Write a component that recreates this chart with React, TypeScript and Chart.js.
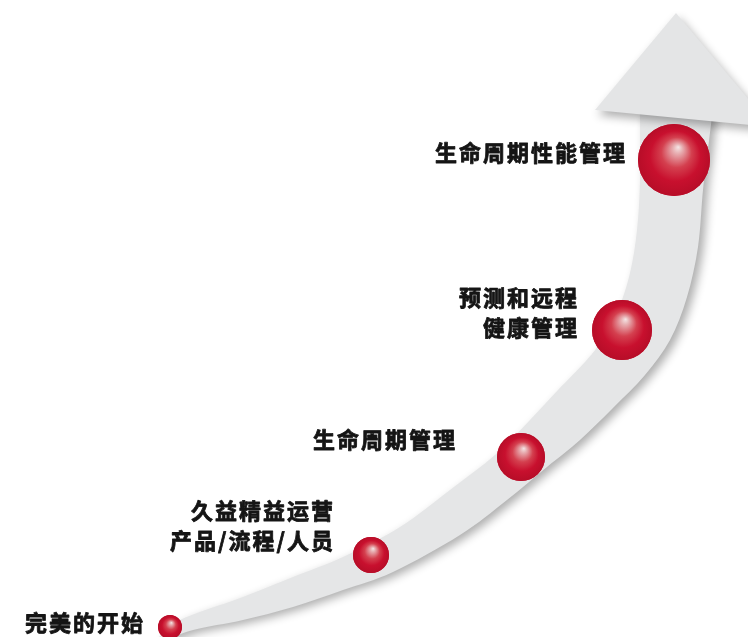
import { useEffect, useRef } from 'react';
import { Chart, registerables } from 'chart.js';

Chart.register(...registerables);

// Stage names (multi-line labels)
const stageLabels: string[][] = [
  ['完美的开始'],
  ['久益精益运营', '产品/流程/人员'],
  ['生命周期管理'],
  ['预测和远程', '健康管理'],
  ['生命周期性能管理'],
];
// Sphere centres and sizes (pixel-like units)
const stageX = [170, 371, 521, 622, 674];
const stageY = [627, 555, 457, 330, 160];
const stageSize = [12, 18, 24, 30, 36];
// Label anchors (right edge / vertical middle)
const labelRightX = [143, 333, 455, 577, 625];
const labelMidY = [623, 526, 440, 313, 153];

// Curved arrow band edges (bottom-left to top)
const bandInnerX = [158, 180, 243, 293, 343, 400, 450, 495, 530, 558, 585, 600, 617, 630, 637, 640, 640];
const bandInnerY = [638, 620, 597, 577, 557, 527, 490, 455, 420, 390, 362, 343, 313, 273, 230, 180, 108];
const bandOuterX = [162, 193, 243, 293, 343, 393, 460, 507, 547, 580, 613, 645, 670, 687, 698, 703, 708, 713];
const bandOuterY = [642, 630, 620, 607, 590, 572, 535, 500, 467, 440, 408, 375, 340, 297, 247, 190, 150, 108];
// Arrow head corners
const headX = [595, 676, 772];
const headY = [110, 13, 127];

type Pt = [number, number];

function smoothTo(ctx: CanvasRenderingContext2D, pts: Pt[]) {
  for (let i = 0; i < pts.length - 1; i++) {
    const p0 = pts[i - 1] || pts[i];
    const p1 = pts[i];
    const p2 = pts[i + 1];
    const p3 = pts[i + 2] || p2;
    const c1x = p1[0] + (p2[0] - p0[0]) / 6;
    const c1y = p1[1] + (p2[1] - p0[1]) / 6;
    const c2x = p2[0] - (p3[0] - p1[0]) / 6;
    const c2y = p2[1] - (p3[1] - p1[1]) / 6;
    ctx.bezierCurveTo(c1x, c1y, c2x, c2y, p2[0], p2[1]);
  }
}

const arrowPlugin = {
  id: 'arrowPlugin',
  beforeDatasetsDraw(chart: any) {
    const { ctx } = chart;
    const sx = chart.scales.x;
    const sy = chart.scales.y;
    const inner: Pt[] = bandInnerX.map((v, i) => [sx.getPixelForValue(v), sy.getPixelForValue(bandInnerY[i])]);
    const outer: Pt[] = bandOuterX
      .map((v, i) => [sx.getPixelForValue(v), sy.getPixelForValue(bandOuterY[i])] as Pt)
      .reverse();
    ctx.save();
    ctx.shadowColor = 'rgba(0,0,0,0.32)';
    ctx.shadowBlur = 10;
    ctx.shadowOffsetX = 5;
    ctx.shadowOffsetY = 3;
    ctx.fillStyle = '#e5e6e7';
    ctx.beginPath();
    ctx.moveTo(inner[0][0], inner[0][1]);
    smoothTo(ctx, inner);
    ctx.lineTo(outer[0][0], outer[0][1]);
    smoothTo(ctx, outer);
    ctx.closePath();
    ctx.fill();

    ctx.shadowOffsetX = 3;
    ctx.shadowOffsetY = 5;
    ctx.fillStyle = '#e4e5e6';
    ctx.beginPath();
    headX.forEach((v, i) => {
      const px = sx.getPixelForValue(v);
      const py = sy.getPixelForValue(headY[i]);
      if (i === 0) ctx.moveTo(px, py);
      else ctx.lineTo(px, py);
    });
    ctx.closePath();
    ctx.fill();
    ctx.restore();
  },
  afterDatasetsDraw(chart: any) {
    const { ctx } = chart;
    const sx = chart.scales.x;
    const sy = chart.scales.y;
    ctx.save();
    // glossy shading on top of each sphere point
    const meta = chart.getDatasetMeta(0);
    meta.data.forEach((el: any) => {
      const px = el.x;
      const py = el.y;
      const r = el.options.radius;
      if (!isFinite(px) || !isFinite(py) || !isFinite(r)) return;
      const g = ctx.createRadialGradient(px + 0.12 * r, py - 0.36 * r, 0, px, py, r);
      g.addColorStop(0, '#f5e6e6');
      g.addColorStop(0.13, '#e8b0b3');
      g.addColorStop(0.42, '#d4404f');
      g.addColorStop(0.7, '#c8102e');
      g.addColorStop(1, '#b70d28');
      ctx.fillStyle = g;
      ctx.beginPath();
      ctx.arc(px, py, r, 0, Math.PI * 2);
      ctx.fill();
    });

    ctx.font = 'bold 22px "Noto Sans CJK SC", "Noto Sans", sans-serif';
    (ctx as any).letterSpacing = '2px';
    ctx.fillStyle = '#151515';
    ctx.strokeStyle = '#151515';
    ctx.lineWidth = 0.8;
    ctx.lineJoin = 'round';
    ctx.textAlign = 'right';
    ctx.textBaseline = 'middle';
    const lineH = 30;
    stageLabels.forEach((lines, i) => {
      const px = sx.getPixelForValue(labelRightX[i]) + 2;
      const py = sy.getPixelForValue(labelMidY[i]);
      const top = py - ((lines.length - 1) * lineH) / 2;
      lines.forEach((t, j) => {
        ctx.fillText(t, px, top + j * lineH);
        ctx.strokeText(t, px, top + j * lineH);
      });
    });
    ctx.restore();
  },
};

export default function App() {
  const ref = useRef<HTMLCanvasElement | null>(null);
  useEffect(() => {
    document.body.style.margin = '0';
    if (!ref.current) return;
    const data = stageX.map((v, i) => ({ x: v, y: stageY[i] }));
    const chart = new Chart(ref.current, {
      type: 'scatter',
      data: {
        datasets: [
          {
            data,
            pointRadius: stageSize,
            pointBorderWidth: 0,
            borderWidth: 0,
            pointBackgroundColor: '#c8102e',
            clip: false,
          } as any,
        ],
      },
      options: {
        animation: false,
        responsive: false,
        events: [],
        layout: { padding: 0, autoPadding: false },
        plugins: { legend: { display: false }, tooltip: { enabled: false } },
        scales: {
          x: { type: 'linear', min: 0, max: 748, display: false },
          y: { type: 'linear', min: 0, max: 637, reverse: true, display: false },
        },
      },
      plugins: [arrowPlugin],
    });
    return () => chart.destroy();
  }, []);
  return (
    <div style={{ width: 748, height: 637, background: '#fff' }}>
      <canvas ref={ref} width={748} height={637} />
    </div>
  );
}
